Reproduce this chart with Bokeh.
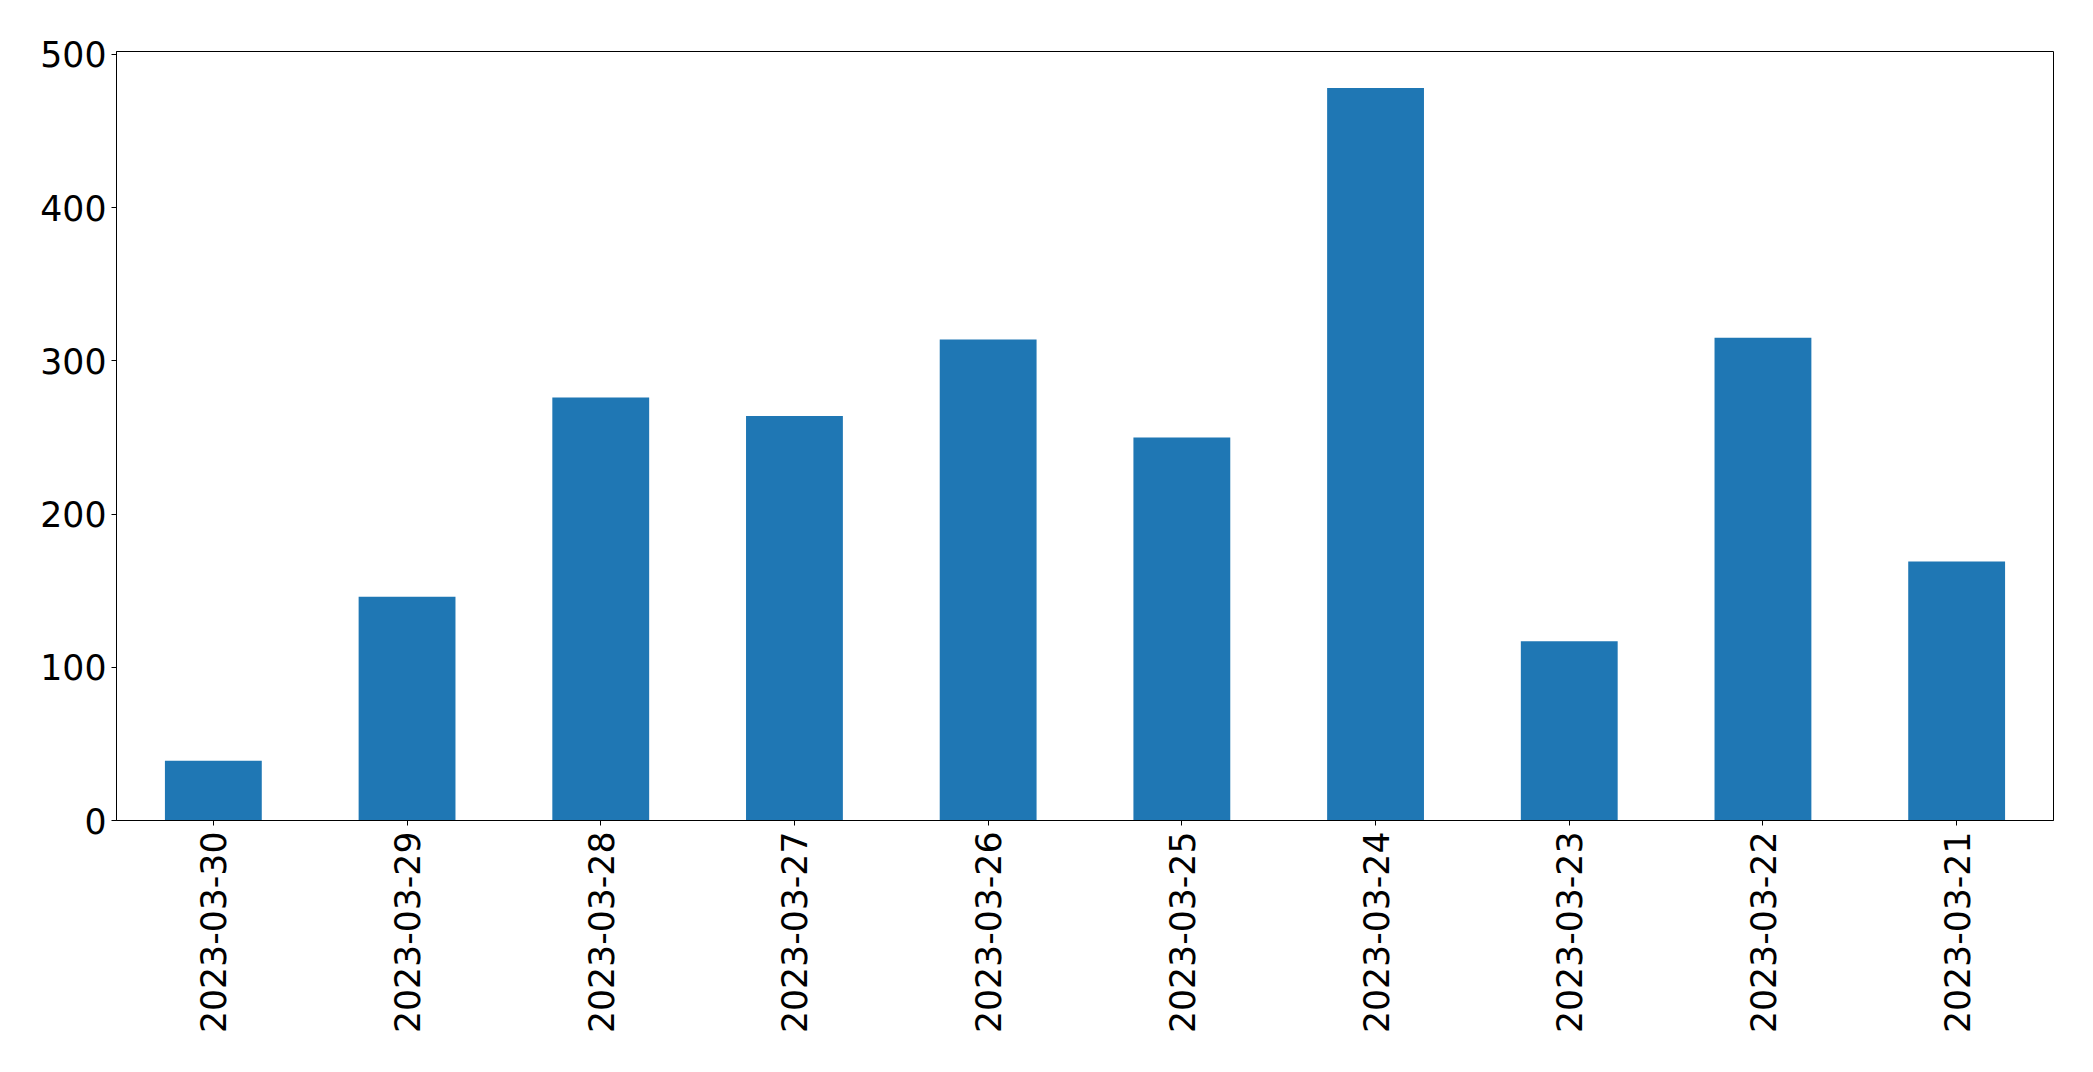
from math import pi
from bokeh.plotting import figure
from bokeh.models import FactorRange, Range1d, FixedTicker, ColumnDataSource
from bokeh.embed import file_html
from bokeh.resources import INLINE

dates = ["2023-03-30", "2023-03-29", "2023-03-28", "2023-03-27", "2023-03-26",
         "2023-03-25", "2023-03-24", "2023-03-23", "2023-03-22", "2023-03-21"]
counts = [39, 146, 276, 264, 314, 250, 478, 117, 315, 169]
y_ticks = [0, 100, 200, 300, 400, 500]

src = ColumnDataSource(data=dict(date=dates, count=counts))

p = figure(
    x_range=FactorRange(factors=dates, range_padding=0),
    y_range=Range1d(0, max(counts) * 1.05),
    frame_width=1937, frame_height=769,
    min_border_left=116, min_border_right=40, min_border_top=51, min_border_bottom=252,
    output_backend="svg", toolbar_location=None,
)
p.vbar(x="date", top="count", width=0.5, source=src, color="#1f77b4", line_color=None)

p.xgrid.visible = False
p.ygrid.visible = False
p.outline_line_color = "black"
p.outline_line_alpha = 1.0
p.outline_line_width = 1
p.background_fill_color = "white"
p.border_fill_color = "white"

p.yaxis.ticker = FixedTicker(ticks=y_ticks)
for ax in (p.xaxis[0], p.yaxis[0]):
    ax.major_label_text_font = "DejaVu Sans"
    ax.major_label_text_font_size = "34.7px"
    ax.major_label_text_color = "black"
    ax.axis_line_color = "black"
    ax.major_tick_line_color = "black"
    ax.major_tick_in = 0
    ax.major_tick_out = 5
    ax.minor_tick_line_color = None
    ax.major_label_standoff = 5
p.xaxis.major_label_orientation = pi / 2
p.xaxis.major_label_standoff = 6

open("out.html", "w").write(file_html(p, INLINE))
